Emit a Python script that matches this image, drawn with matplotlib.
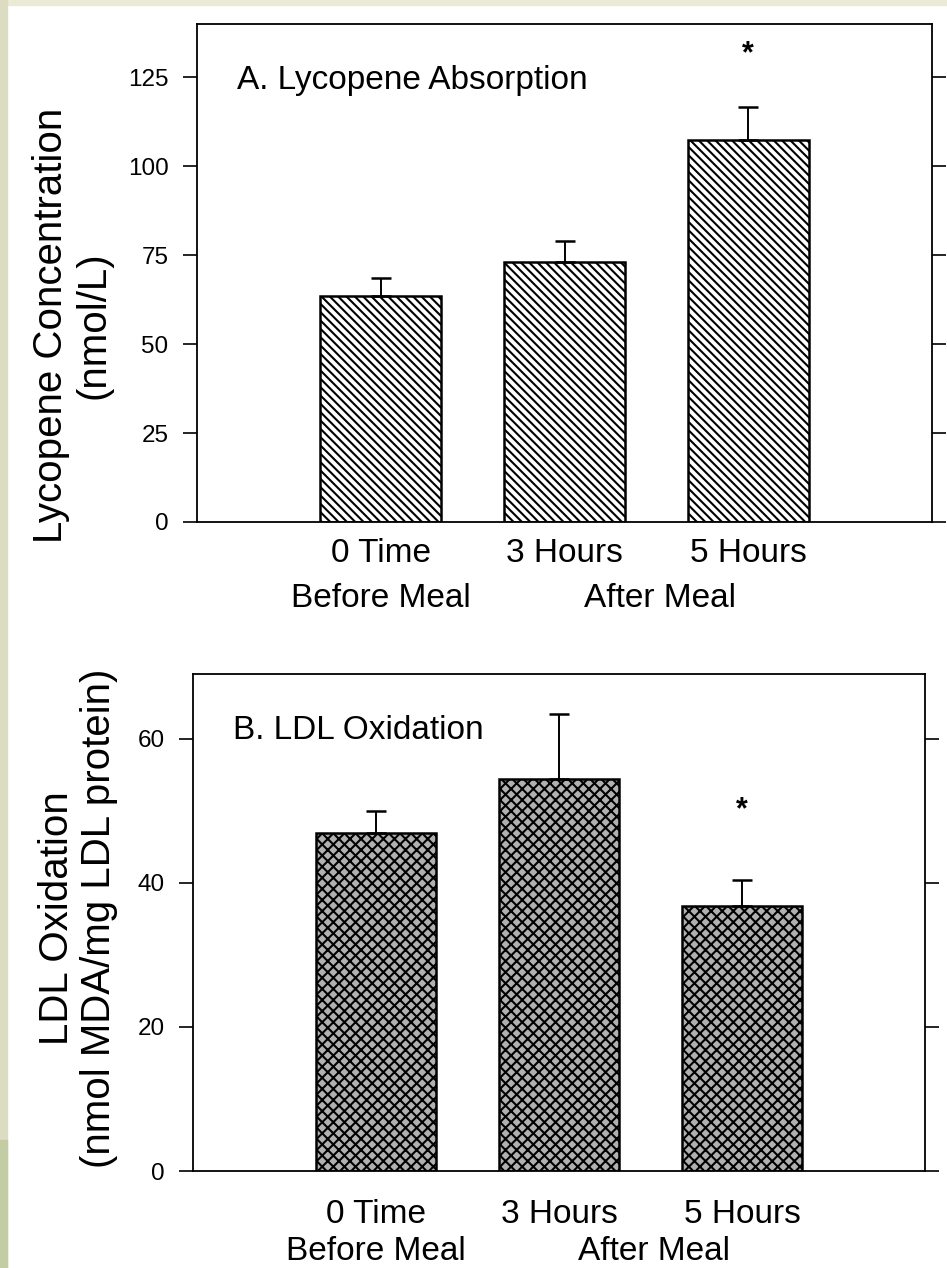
import matplotlib

matplotlib.use("Agg")
import matplotlib.pyplot as plt
import numpy as np
from matplotlib.patches import Rectangle
from matplotlib.transforms import blended_transform_factory

plt.rcParams["font.family"] = ["Liberation Sans", "DejaVu Sans"]
plt.rcParams["hatch.linewidth"] = 1.5

W, H = 947, 1268

# data
times = ["0 Time", "3 Hours", "5 Hours"]
meal_groups = ["Before Meal", "After Meal"]
meal_group_x = [0.0, 1.52]

lycopene = [63.5, 73.0, 107.3]
lycopene_err = [5.2, 6.0, 9.3]
lycopene_sig = [False, False, True]
lycopene_ticks = [0, 25, 50, 75, 100, 125]

ldl_ox = [46.9, 54.4, 36.8]
ldl_ox_err = [3.1, 9.1, 3.6]
ldl_sig = [False, False, True]
ldl_ticks = [0, 20, 40, 60]


def px_rect(left, top, right, bottom):
    return [left / W, 1 - bottom / H, (right - left) / W, (bottom - top) / H]


def draw_panel(ax, vals, errs, sig, ticks, ymax, hatch, face, title, star_off, row_off):
    x = np.arange(len(vals))
    ax.bar(x, vals, 0.66, color=face, edgecolor="black", hatch=hatch,
           linewidth=1.8, zorder=2)
    ax.errorbar(x, vals, yerr=[np.zeros(len(errs)), errs], fmt="none",
                ecolor="black", elinewidth=1.4, capsize=7, capthick=1.8, zorder=3)
    for xi, v, e, s in zip(x, vals, errs, sig):
        if s:
            ax.annotate("*", (xi, v + e), xytext=(0, star_off),
                        textcoords="offset points", ha="center", va="center",
                        fontsize=22, fontweight="bold")
    ax.set_xlim(-1, 3)
    ax.set_ylim(0, ymax)
    ax.set_yticks(ticks)
    ax.set_xticks([])
    ax.tick_params(axis="y", which="both", left=True, right=True, direction="out",
                   length=10, width=1.2, labelsize=17.5, pad=10.5, labelright=False)
    for sp in ax.spines.values():
        sp.set_linewidth(1.3)
    ax.text(0.055, 0.87, title, transform=ax.transAxes, fontsize=24,
            va="baseline", ha="left")

    tr = blended_transform_factory(ax.transData, ax.transAxes)
    for xi, lab in zip(x, times):
        ax.text(xi, row_off[0], lab, transform=tr, ha="center", va="baseline",
                fontsize=24)
    for gx, lab in zip(meal_group_x, meal_groups):
        ax.text(gx, row_off[1], lab, transform=tr, ha="center", va="baseline",
                fontsize=24)


fig = plt.figure(figsize=(W / 100, H / 100), dpi=100, facecolor="white")

# slide background strips
fig.add_artist(Rectangle((0, 1 - 5 / H), 1, 5 / H, transform=fig.transFigure,
                         color="#ebead6", zorder=0))
fig.add_artist(Rectangle((0, 0), 7 / W, 1, transform=fig.transFigure,
                         color="#dcdcc3", zorder=0))
fig.add_artist(Rectangle((0, 0), 7 / W, 128 / H, transform=fig.transFigure,
                         color="#c3cca2", zorder=0))

ax_a = fig.add_axes(px_rect(197, 24, 932, 522))
draw_panel(ax_a, lycopene, lycopene_err, lycopene_sig, lycopene_ticks, 140,
           "\\\\\\\\", "white", "A. Lycopene Absorption", 38, (-40 / 498, -85 / 498))

ax_b = fig.add_axes(px_rect(193, 674, 925, 1171))
draw_panel(ax_b, ldl_ox, ldl_ox_err, ldl_sig, ldl_ticks, 69,
           "xxx", "#b0b0b0", "B. LDL Oxidation", 50, (-52 / 497, -89 / 497))

fig.text(72 / W, 1 - 325 / H, "Lycopene Concentration\n(nmol/L)", rotation=90,
         ha="center", va="center", multialignment="center", fontsize=29,
         linespacing=1.15)
fig.text(78 / W, 1 - 918 / H, "LDL Oxidation\n(nmol MDA/mg LDL protein)",
         rotation=90, ha="center", va="center", multialignment="center",
         fontsize=29, linespacing=1.15)

fig.savefig("out.png", dpi=100, facecolor=fig.get_facecolor())
